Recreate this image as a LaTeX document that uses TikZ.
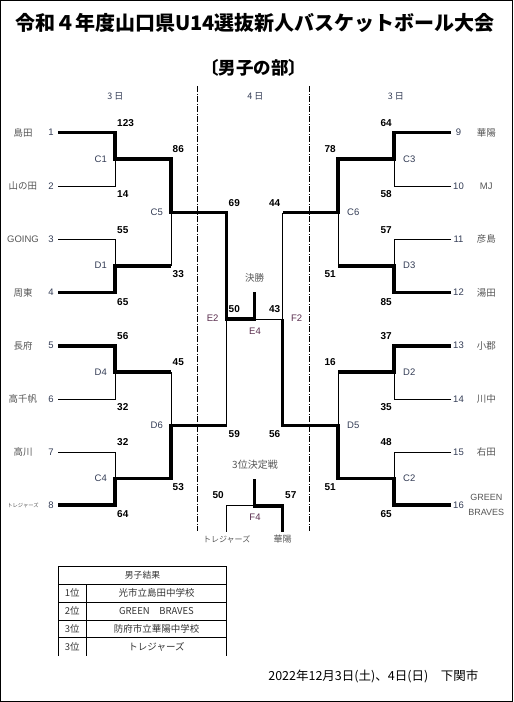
\documentclass[tikz,border=0pt]{standalone}
\usepackage{fontspec}
\setmainfont{Liberation Sans}
\newfontfamily\jp{Noto Sans CJK JP}
\definecolor{labc}{HTML}{333C55}
\definecolor{finc}{HTML}{5A2E4E}
\definecolor{teamc}{HTML}{555555}
\begin{document}
\begin{tikzpicture}[x=1pt,y=-1pt,
  thinl/.style={line width=0.9pt},
  winl/.style={line width=3.8pt, line join=miter},
  ddash/.style={line width=0.8pt, dash pattern=on 6pt off 1.5pt on 1pt off 1.5pt},
  score/.style={font=\fontsize{10}{12}\selectfont\bfseries, inner sep=0},
  mlab/.style={font=\fontsize{9.5}{11}\selectfont, text=labc, inner sep=0},
  flab/.style={font=\fontsize{9.5}{11}\selectfont, text=finc, inner sep=0},
  team/.style={font=\jp\fontsize{9.5}{11}\selectfont, text=teamc, inner sep=0},
  tnum/.style={font=\fontsize{9.5}{11}\selectfont, text=labc, inner sep=0},
  hdr/.style={font=\jp\fontsize{9}{11}\selectfont, text=labc, inner sep=0},
  tbl/.style={font=\jp\fontsize{9.5}{11}\selectfont, text=black!80, inner sep=0},
]
\useasboundingbox (0,0) rectangle (514,702);
\draw[line width=1pt] (0.7,0.7) rectangle (512.6,701.2);

% title
\node[font=\jp\bfseries\fontsize{20}{24}\selectfont, inner sep=0] (title) at (255,22.5) {令和４年度山口県U14選抜新人バスケットボール大会};
\node[font=\jp\bfseries\fontsize{17.5}{20}\selectfont, inner sep=0] (sub) at (253.5,68) {〔男子の部〕};

% day headers
\node[hdr] (d1) at (115.3,96) {3 日};
\node[hdr] (d2) at (255.3,96) {4 日};
\node[hdr] (d3) at (395.8,96) {3 日};

% dash-dot separators
\draw[ddash] (197.5,86) -- (197.5,531);
\draw[ddash] (309.5,86) -- (309.5,531);

% coordinates
\foreach \i/\y in {1/132.5,2/186,3/239,4/292.5,5/345.7,6/399,7/452,8/505}{
  \coordinate (L\i) at (58,\y);
  \coordinate (R\i) at (451,\y);
}
\coordinate (A1) at (115,159.3);
\coordinate (A2) at (115,265.7);
\coordinate (A3) at (115,372.3);
\coordinate (A4) at (115,478.5);
\coordinate (A5) at (394,159.3);
\coordinate (A6) at (394,265.7);
\coordinate (A7) at (394,372.3);
\coordinate (A8) at (394,478.5);
\coordinate (B1) at (171,212.5);
\coordinate (B2) at (171,425.4);
\coordinate (B3) at (338,212.5);
\coordinate (B4) at (338,425.4);
\coordinate (FL) at (226.5,319);
\coordinate (FR) at (282.5,319);
\coordinate (FT) at (254.5,292);
\coordinate (T0) at (254.5,479.3);
\coordinate (TM) at (254.5,505.7);
\coordinate (TL) at (226.5,531.5);
\coordinate (TR) at (282.5,531.5);

% thin lines (losers)
\draw[thinl] (L2) -| (A1);
\draw[thinl] (L3) -| (A2);
\draw[thinl] (L6) -| (A3);
\draw[thinl] (L7) -| (A4);
\draw[thinl] (B1) -- (A2 -| B1);
\draw[thinl] (A3 -| B2) -- (B2);
\draw[thinl] (FL) -- (B2 -| FL);
\draw[thinl] (R2) -| (A5);
\draw[thinl] (R3) -| (A6);
\draw[thinl] (R6) -| (A7);
\draw[thinl] (R7) -| (A8);
\draw[thinl] (B3) -- (A6 -| B3);
\draw[thinl] (A7 -| B4) -- (B4);
\draw[thinl] (B3 -| FR) -- (FR) -- (FT |- FR);
\draw[thinl] (TL) |- (TM);

% thick lines (winners)
\draw[winl] (L1) -| (A1) -| (B1) -| (FL) -| (FT);
\draw[winl] (L4) -| (A2) -- (A2 -| B1);
\draw[winl] (L5) -| (A3) -- (A3 -| B2);
\draw[winl] (L8) -| (A4) -| (B2) -- (B2 -| FL);
\draw[winl] (R1) -| (A5) -| (B3) -- (B3 -| FR);
\draw[winl] (R4) -| (A6) -- (A6 -| B3);
\draw[winl] (R5) -| (A7) -- (A7 -| B4);
\draw[winl] (R8) -| (A8) -| (B4) -| (FR);
\draw[winl] (TR) |- (TM) -- (T0);

% team names and numbers, left
\node[team] (n1) at (23,132.5) {島田};
\node[team] (n2) at (23,186) {山の田};
\node[team, font=\fontsize{9.5}{11}\selectfont] (n3) at (23,239) {GOING};
\node[team] (n4) at (23,292.5) {周東};
\node[team] (n5) at (23,345.7) {長府};
\node[team] (n6) at (23,399) {高千帆};
\node[team] (n7) at (23,452) {高川};
\node[team, font=\jp\fontsize{5.3}{6}\selectfont] (n8) at (23,505) {トレジャーズ};
\foreach \i/\y in {1/132.5,2/186,3/239,4/292.5,5/345.7,6/399,7/452,8/505}{
  \node[tnum] (k\i) at (51,\y) {\i};
}
% right
\node[team] (n9) at (486.3,132.5) {華陽};
\node[team, font=\fontsize{9.5}{11}\selectfont] (n10) at (486.3,186) {MJ};
\node[team] (n11) at (486.3,239) {彦島};
\node[team] (n12) at (486.3,292.5) {湯田};
\node[team] (n13) at (486.3,345.7) {小郡};
\node[team] (n14) at (486.3,399) {川中};
\node[team] (n15) at (486.3,452) {右田};
\node[team, font=\fontsize{9}{15}\selectfont, align=center] (n16) at (486.3,504.5) {GREEN\\BRAVES};
\foreach \i/\y in {9/132.5,10/186,11/239,12/292.5,13/345.7,14/399,15/452,16/505}{
  \node[tnum] (k\i) at (458.5,\y) {\i};
}

% match labels
\node[mlab, anchor=east] (mC1) at (107,159.3) {C1};
\node[mlab, anchor=east] (mD1) at (107,265.7) {D1};
\node[mlab, anchor=east] (mD4) at (107,372.3) {D4};
\node[mlab, anchor=east] (mC4) at (107,478.5) {C4};
\node[mlab, anchor=east] (mC5) at (163,212.5) {C5};
\node[mlab, anchor=east] (mD6) at (163,425.4) {D6};
\node[mlab, anchor=west] (mC3) at (403,159.3) {C3};
\node[mlab, anchor=west] (mD3) at (403,265.7) {D3};
\node[mlab, anchor=west] (mD2) at (403,372.3) {D2};
\node[mlab, anchor=west] (mC2) at (403,478.5) {C2};
\node[mlab, anchor=west] (mC6) at (347,212.5) {C6};
\node[mlab, anchor=west] (mD5) at (347,425.4) {D5};
\node[flab] (mE2) at (212.7,318.3) {E2};
\node[flab] (mF2) at (296.7,318.3) {F2};
\node[flab] (mE4) at (255,331.7) {E4};
\node[flab] (mF4) at (255,517.7) {F4};
\node[team, font=\jp\fontsize{9.5}{11}\selectfont] (fin) at (254.5,278.3) {決勝};
\node[team, font=\jp\fontsize{10}{12}\selectfont] (third) at (255,465) {3位決定戦};
\node[team, font=\jp\fontsize{8}{10}\selectfont] (tl) at (226.7,539.3) {トレジャーズ};
\node[team, font=\jp\fontsize{9}{11}\selectfont] (tr) at (282.5,539.3) {華陽};

% scores left
\foreach \x/\y/\s [count=\j] in {117/123.3/123,117/194.3/14,117/230/55,117/301.7/65,117/336/56,117/407.3/32,117/442.3/32,117/514/64,
  172.5/149.3/86,172.5/274/33,172.5/362.3/45,172.5/487/53,228.5/203.3/69,228.5/434/59,228.5/309.3/50,285/495.3/57}{
  \node[score, anchor=west] (sl\j) at (\x,\y) {\s};
}
% scores right
\foreach \x/\y/\s [count=\j] in {392/123.3/64,392/194.3/58,392/230/57,392/301.7/85,392/336/37,392/407.3/35,392/442.3/48,392/514/65,
  336/149.3/78,336/274/51,336/362.3/16,336/487/51,280.5/203.3/44,280.5/434/56,280.5/309.3/43,224/495.3/50}{
  \node[score, anchor=east] (sr\j) at (\x,\y) {\s};
}

% results table
\draw[line width=0.9pt] (58.3,656) -- (58.3,566) -- (226.7,566) -- (226.7,656);
\foreach \y in {584,602.3,620.3,637.7}{ \draw[line width=0.9pt] (58.3,\y) -- (226.7,\y); }
\draw[line width=0.9pt] (86.3,584) -- (86.3,656);
\node[tbl, font=\jp\fontsize{8.8}{11}\selectfont] (th) at (142.5,575) {男子結果};
\node[tbl] (p1) at (72.3,593.2) {1位};
\node[tbl] (p2) at (72.3,611.3) {2位};
\node[tbl] (p3) at (72.3,629) {3位};
\node[tbl] (p4) at (72.3,646.8) {3位};
\node[tbl] (w1) at (156.5,593.2) {光市立島田中学校};
\node[tbl] (w2) at (156.5,611.3) {GREEN　BRAVES};
\node[tbl] (w3) at (156.5,629) {防府市立華陽中学校};
\node[tbl] (w4) at (156.5,646.8) {トレジャーズ};

% date
\node[font=\jp\fontsize{12.5}{15}\selectfont, inner sep=0] (date) at (373.3,676.7) {2022年12月3日(土)、4日(日)　下関市};
\end{tikzpicture}
\end{document}
